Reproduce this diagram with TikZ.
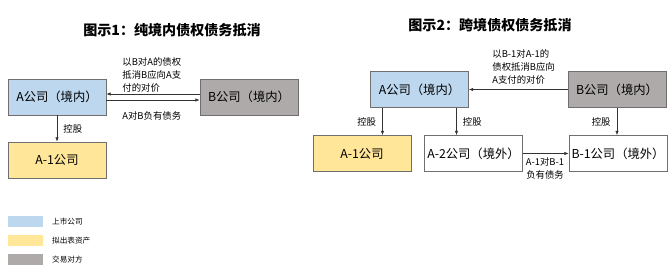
\documentclass[tikz,border=0pt]{standalone}
\usepackage{fontspec}
\usepackage{tikz}
\usetikzlibrary{arrows.meta,positioning,calc}
\newfontfamily\cjk{Noto Sans CJK SC}
\definecolor{listblue}{HTML}{BDD7EE}
\definecolor{outyellow}{HTML}{FFE699}
\definecolor{partygray}{HTML}{AEAAAA}
\definecolor{edgegray}{HTML}{6F6F6F}
\tikzset{
  company/.style={draw=edgegray, line width=0.5pt, minimum width=2.94cm, minimum height=1.08cm, inner sep=0pt, font=\cjk\fontsize{10.5}{12}\selectfont},
  listed/.style={company, fill=listblue},
  outasset/.style={company, fill=outyellow},
  party/.style={company, fill=partygray},
  abroad/.style={company, fill=white},
  note/.style={font=\cjk\fontsize{8}{11}\selectfont, inner sep=1pt, align=left},
  title/.style={font=\cjk\bfseries\fontsize{12}{14}\selectfont},
  swatch/.style={minimum width=1.05cm, minimum height=0.33cm, inner sep=0pt},
  legendtext/.style={font=\cjk\fontsize{6.5}{8}\selectfont, inner sep=0pt, anchor=west},
  arrow/.style={-{Latex[length=1.3mm,width=1mm]}, line width=0.5pt, draw=black!80}
}
\begin{document}
\begin{tikzpicture}[x=0.03cm, y=-0.03cm]
  \useasboundingbox (0,0) rectangle (670,274);

  \node[title] (titleA) at (172,30) {图示1：纯境内债权债务抵消};
  \node[listed] (aDom) at (57,97) {A公司（境内）};
  \node[party] (bDom) at (249,97) {B公司（境内）};
  \node[outasset] (aOne) at (57,160) {A-1公司};

  \draw[arrow] (aDom.south) -- (aOne.north) node[midway, right=0.15cm, note] {控股};
  \draw[arrow] ([yshift=0.09cm]bDom.west) -- ([yshift=0.09cm]aDom.east);
  \draw[arrow] ([yshift=-0.09cm]aDom.east) -- ([yshift=-0.09cm]bDom.west);
  \node[note, anchor=north west] (offsetA) at (121,56) {以B对A的债权\\抵消B应向A支\\付的对价};
  \node[note, anchor=west] (debtA) at (121,116) {A对B负有债务};

  \node[title] (titleB) at (490,25) {图示2：跨境债权债务抵消};
  \node[listed] (aDomB) at (419.5,89.5) {A公司（境内）};
  \node[party] (bDomB) at (617,89.5) {B公司（境内）};
  \node[outasset] (aOneB) at (362,153.5) {A-1公司};
  \node[abroad] (aTwo) at (473.5,153.5) {A-2公司（境外）};
  \node[abroad] (bOne) at (618,153.5) {B-1公司（境外）};

  \draw[arrow] ([xshift=-1.11cm]aDomB.south) -- ([xshift=-1.11cm]aDomB.south |- aOneB.north) node[midway, left=0.15cm, note] {控股};
  \draw[arrow] ([xshift=1.11cm]aDomB.south) -- ([xshift=1.11cm]aDomB.south |- aTwo.north) node[midway, right=0.15cm, note] {控股};
  \draw[arrow] (bDomB.south) -- (bDomB.south |- bOne.north) node[midway, left=0.15cm, note] {控股};
  \draw[arrow] (bDomB.west) -- (aDomB.east);
  \draw[arrow] (aTwo.east) -- (bOne.west);
  \node[note, anchor=north west] (offsetB) at (491,48) {以B-1对A-1的\\债权抵消B应向\\A支付的对价};
  \node[note, align=center, anchor=north] (debtB) at (545,156) {A-1对B-1\\负有债务};

  \node[swatch, fill=listblue] (keyListed) at (25.5,221.5) {};
  \node[swatch, fill=outyellow] (keyOut) at (25.5,240.5) {};
  \node[swatch, fill=partygray] (keyParty) at (25.5,259.5) {};
  \node[legendtext] at (52,221.5) {上市公司};
  \node[legendtext] at (52,240.5) {拟出表资产};
  \node[legendtext] at (52,259.5) {交易对方};
\end{tikzpicture}
\end{document}
